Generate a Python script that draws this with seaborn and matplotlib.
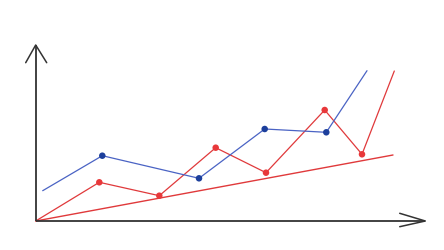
import matplotlib
matplotlib.use("Agg")
import matplotlib.pyplot as plt
import seaborn as sns
import pandas as pd

sns.set_theme(style="white")

# Data (origin at the axes' corner)
blue_x = [7, 66.6, 163.3, 229, 290.6, 331.3]
blue_y = [30.3, 65.3, 42.7, 92, 88.7, 150.3]
blue_marked = [False, True, True, True, True, False]

red_x = [0, 63.6, 123.6, 180, 230.3, 289, 326.3, 358.6]
red_y = [0, 38.7, 25.3, 73.3, 48.3, 111, 66.7, 150]
red_marked = [False, True, True, True, True, True, True, False]

trend_x = [0, 357.3]
trend_y = [0, 66]

BLUE_LINE = "#4a63c4"
BLUE_MARK = "#1c3f9c"
RED_LINE = "#e0393b"
RED_MARK = "#e8383a"
AXIS = "#333333"

blue = pd.DataFrame({"x": blue_x, "y": blue_y, "m": blue_marked})
red = pd.DataFrame({"x": red_x, "y": red_y, "m": red_marked})
trend = pd.DataFrame({"x": trend_x, "y": trend_y})

fig = plt.figure(figsize=(4.44, 2.5), dpi=100)
ax = fig.add_axes([0, 0, 1, 1])
x0, x1 = -35.7, 444 - 35.7
y0, y1 = -29, 221
ax.set_xlim(x0, x1)
ax.set_ylim(y0, y1)
ax.axis("off")

sns.lineplot(data=trend, x="x", y="y", ax=ax, color=RED_LINE, lw=1.0, sort=False)
sns.lineplot(data=red, x="x", y="y", ax=ax, color=RED_LINE, lw=0.9, sort=False)
sns.lineplot(data=blue, x="x", y="y", ax=ax, color=BLUE_LINE, lw=0.9, sort=False)
sns.scatterplot(data=red[red.m], x="x", y="y", ax=ax, color=RED_MARK, s=22,
                edgecolor="none", zorder=5)
sns.scatterplot(data=blue[blue.m], x="x", y="y", ax=ax, color=BLUE_MARK, s=22,
                edgecolor="none", zorder=5)

# axes with open arrow heads
x_tip = 389.6
y_tip = 176
ax.plot([0, x_tip], [0, 0], color=AXIS, lw=1.3, solid_capstyle="butt")
ax.plot([0, 0], [0, y_tip], color=AXIS, lw=1.3, solid_capstyle="butt")
ax.plot([x_tip - 25.6, x_tip, x_tip - 25.6], [7.7, 0, -5.7], color=AXIS, lw=1.1)
ax.plot([-10, 0, 11], [y_tip - 17.7, y_tip, y_tip - 17.7], color=AXIS, lw=1.1)

fig.savefig("out.png", dpi=100, facecolor="white")
